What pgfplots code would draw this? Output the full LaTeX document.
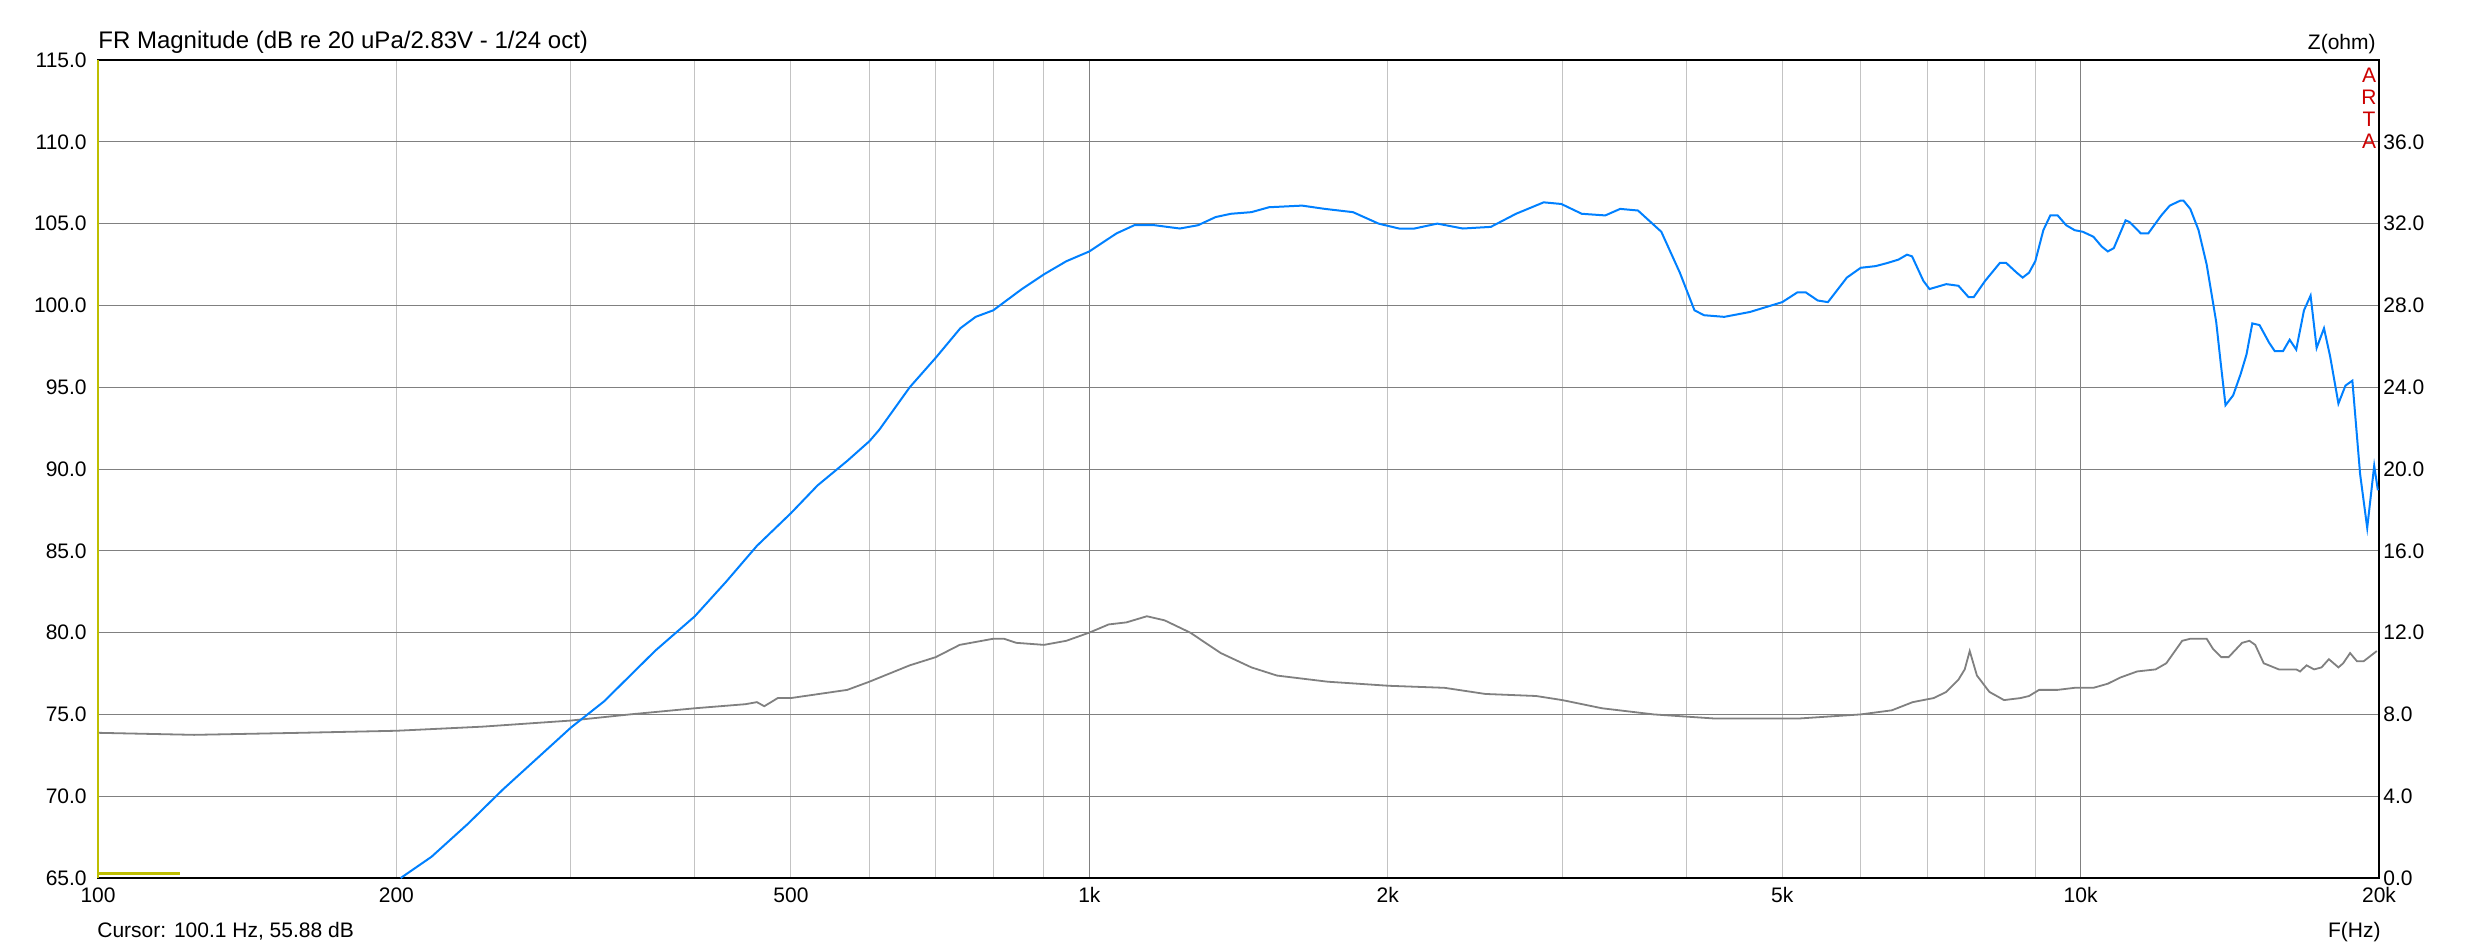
\documentclass[border=0pt]{standalone}
\usepackage{pgfplots}
\pgfplotsset{compat=1.18}
\usepackage{fontspec}
\setmainfont{Liberation Sans}

\definecolor{frblue}{RGB}{0,128,255}
\definecolor{zgray}{RGB}{128,128,128}
\definecolor{gridmaj}{RGB}{128,128,128}
\definecolor{gridmin}{RGB}{195,195,195}
\definecolor{cursorc}{RGB}{190,190,0}
\definecolor{artared}{RGB}{204,0,0}

% SPL magnitude, dB
\pgfplotstableread{
f      db
202    65.0
217    66.3
236    68.3
256    70.4
300    74.2
324    75.8
365    78.9
400    81.0
430    83.1
462    85.3
500    87.3
532    89.0
570    90.5
600    91.7
614    92.4
659    95.0
700    96.8
741    98.6
768    99.3
800    99.7
855    101.0
900    101.9
948    102.7
1000   103.3
1065   104.4
1110   104.9
1164   104.9
1234   104.7
1287   104.9
1341   105.4
1389   105.6
1457   105.7
1518   106.0
1639   106.1
1728   105.9
1845   105.7
1958   105.0
2053   104.7
2128   104.7
2244   105.0
2381   104.7
2541   104.8
2694   105.6
2873   106.3
2993   106.2
3139   105.6
3315   105.5
3432   105.9
3577   105.8
3776   104.5
3942   102.0
4078   99.7
4170   99.4
4370   99.3
4640   99.6
5000   100.2
5180   100.8
5280   100.8
5430   100.3
5560   100.2
5810   101.7
6000   102.3
6210   102.4
6390   102.6
6550   102.8
6680   103.1
6760   103.0
6940   101.5
7040   101.0
7320   101.3
7530   101.2
7710   100.5
7800   100.5
8010   101.5
8290   102.6
8410   102.6
8620   102.0
8740   101.7
8870   102.0
9000   102.7
9170   104.6
9320   105.5
9480   105.5
9670   104.9
9860   104.6
10050  104.5
10300  104.2
10500  103.6
10650  103.3
10800  103.5
11100  105.2
11200  105.1
11500  104.4
11700  104.4
12060  105.5
12300  106.1
12600  106.4
12700  106.4
12900  105.9
13150  104.6
13400  102.5
13700  99.0
13850  96.4
14000  93.9
14250  94.5
14500  95.8
14700  97.0
14900  98.9
15150  98.8
15500  97.7
15700  97.2
16000  97.2
16250  97.9
16500  97.3
16800  99.7
17060  100.6
17300  97.4
17600  98.6
17850  96.9
18200  94.0
18500  95.1
18800  95.4
19140  89.7
19460  86.4
19780  90.2
19950  88.7
}\spl

% impedance, ohm
\pgfplotstableread{
f      z
100    7.1
125    7.0
160    7.1
200    7.2
244    7.4
300    7.7
344    8.0
400    8.3
450    8.5
462    8.6
470    8.4
485    8.8
500    8.8
570    9.2
600    9.6
659    10.4
700    10.8
740    11.4
800    11.7
820    11.7
844    11.5
900    11.4
948    11.6
1000   12.0
1046   12.4
1090   12.5
1143   12.8
1191   12.6
1264   12.0
1357   11.0
1457   10.3
1546   9.9
1739   9.6
2004   9.4
2282   9.3
2509   9.0
2823   8.9
3000   8.7
3290   8.3
3710   8.0
4270   7.8
4800   7.8
5200   7.8
6000   8.0
6450   8.2
6770   8.6
7110   8.8
7320   9.1
7530   9.7
7640   10.2
7730   11.1
7860   9.9
8090   9.1
8370   8.7
8700   8.8
8870   8.9
9080   9.2
9480   9.2
9860   9.3
10300  9.3
10650  9.5
10960  9.8
11400  10.1
11900  10.2
12200  10.5
12660  11.6
12900  11.7
13400  11.7
13600  11.2
13860  10.8
14100  10.8
14550  11.5
14800  11.6
15000  11.4
15300  10.5
15850  10.2
16500  10.2
16650  10.1
16900  10.4
17200  10.2
17500  10.3
17800  10.7
18200  10.3
18400  10.5
18700  11.0
19000  10.6
19300  10.6
19900  11.1
}\imp

\begin{document}
\begin{tikzpicture}[font=\fontsize{10.5}{12}\selectfont]
\useasboundingbox (0,0) rectangle (1236.5pt,475pt);

% impedance axis: grid and right scale
\begin{axis}[
  xmode=log, xmin=100, xmax=20000,
  scale only axis, width=1140.5pt, height=409pt,
  at={(49pt,36pt)}, anchor=south west,
  tick style={draw=none},
  /pgf/number format/assume math mode=true,
  ymin=0, ymax=40,
  ytick={0,4,...,36},
  yticklabel pos=right,
  yticklabel={\pgfmathprintnumber[fixed,fixed zerofill,precision=1]{\tick}},
  yticklabel style={anchor=west, inner sep=0pt, xshift=2pt},
  xtick={1000,10000}, xticklabels={},
  minor xtick={200,300,400,500,600,700,800,900,2000,3000,4000,5000,6000,7000,8000,9000},
  xmajorgrids, xminorgrids, ymajorgrids,
  major grid style={gridmaj, line width=0.5pt},
  minor grid style={gridmin, line width=0.5pt},
  axis line style={draw=none},
]
\addplot[zgray, line width=0.9pt] table[x=f, y=z] {\imp};
\end{axis}

% SPL axis: frame, left scale, frequency labels
\begin{axis}[
  xmode=log, xmin=100, xmax=20000,
  scale only axis, width=1140.5pt, height=409pt,
  at={(49pt,36pt)}, anchor=south west,
  tick style={draw=none},
  /pgf/number format/assume math mode=true,
  ymin=65, ymax=115,
  ytick={65,70,...,115},
  yticklabel={\pgfmathprintnumber[fixed,fixed zerofill,precision=1]{\tick}},
  yticklabel style={anchor=east, inner sep=0pt, xshift=-5.5pt},
  xtick={100,200,500,1000,2000,5000,10000,20000},
  xticklabels={100,200,500,1k,2k,5k,10k,20k},
  xticklabel style={anchor=north, inner sep=0pt, yshift=-4.5pt},
  axis line style={black, line width=0.75pt},
  clip=false,
]
\addplot[frblue, line width=1pt] table[x=f, y=db] {\spl};
\addplot[cursorc, line width=1pt] coordinates {(100.1,65) (100.1,115)};
\addplot[cursorc, line width=1.5pt] coordinates {(100.1,65.25) (121,65.25)};
\end{axis}

\node[anchor=base west, inner sep=0pt, font=\fontsize{12}{14}\selectfont] at (49pt,450.5pt) {FR Magnitude (dB re 20 uPa/2.83V - 1/24 oct)};
\node[anchor=base east, inner sep=0pt] at (1188pt,450pt) {Z(ohm)};
\node[artared, anchor=base, inner sep=0pt] at (1184.5pt,433.5pt) {A};
\node[artared, anchor=base, inner sep=0pt] at (1184.5pt,422.5pt) {R};
\node[artared, anchor=base, inner sep=0pt] at (1184.5pt,411.5pt) {T};
\node[artared, anchor=base, inner sep=0pt] at (1184.5pt,400.5pt) {A};
\node[anchor=base west, inner sep=0pt] at (48.5pt,6.5pt) {Cursor: 100.1 Hz, 55.88 dB};
\node[anchor=base east, inner sep=0pt] at (1190.5pt,6.5pt) {F(Hz)};
\end{tikzpicture}
\end{document}
